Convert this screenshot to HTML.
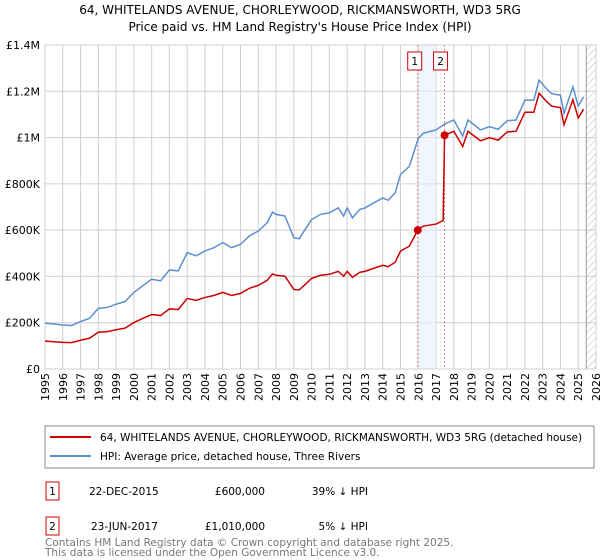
<!DOCTYPE html>
<html><head><meta charset="utf-8"><style>
body{margin:0;background:#fff;font-family:"Liberation Sans","DejaVu Sans",sans-serif;}
#wrap{position:relative;width:600px;height:560px;overflow:hidden}
</style></head><body>
<div id="wrap">
<svg id="svg" width="600" height="560" xmlns="http://www.w3.org/2000/svg" font-family="DejaVu Sans, Liberation Sans, sans-serif">
<defs><pattern id="hatch" width="5" height="5" patternUnits="userSpaceOnUse" patternTransform="rotate(45)"><line x1="0" y1="0" x2="0" y2="5" stroke="#bbb" stroke-width="1"/></pattern></defs>
<text x="300" y="14" text-anchor="middle" font-size="12" fill="#000">64, WHITELANDS AVENUE, CHORLEYWOOD, RICKMANSWORTH, WD3 5RG</text>
<text x="300" y="31" text-anchor="middle" font-size="12" fill="#000">Price paid vs. HM Land Registry's House Price Index (HPI)</text>
<g id="grid"></g><g id="marks"></g><g id="axes"></g>
<rect x="45" y="426" width="549" height="42" fill="#fff" stroke="#888"/>
<line x1="50" y1="437" x2="91" y2="437" stroke="#cc0000" stroke-width="2"/>
<text x="100" y="441" font-size="10.5">64, WHITELANDS AVENUE, CHORLEYWOOD, RICKMANSWORTH, WD3 5RG (detached house)</text>
<line x1="50" y1="456" x2="91" y2="456" stroke="#5b8fd0" stroke-width="2"/>
<text x="100" y="460" font-size="10.5">HPI: Average price, detached house, Three Rivers</text>
<g font-size="10.5">
<rect x="46" y="482" width="13" height="18" fill="#fff" stroke="#cc0000"/>
<text x="52.5" y="495" text-anchor="middle">1</text>
<text x="89" y="495">22-DEC-2015</text>
<text x="265" y="495" text-anchor="end">£600,000</text>
<text x="368" y="495" text-anchor="end">39% ↓ HPI</text>
<rect x="46" y="517" width="13" height="18" fill="#fff" stroke="#cc0000"/>
<text x="52.5" y="530" text-anchor="middle">2</text>
<text x="91" y="530">23-JUN-2017</text>
<text x="265" y="530" text-anchor="end">£1,010,000</text>
<text x="368" y="530" text-anchor="end">5% ↓ HPI</text>
</g>
<text x="45" y="546" font-size="10.5" fill="#777">Contains HM Land Registry data © Crown copyright and database right 2025.</text>
<text x="45" y="556" font-size="10.5" fill="#777">This data is licensed under the Open Government Licence v3.0.</text>
</svg>
</div>
<script>
const hpiYears=[1995,1996,1996.5,1997,1997.5,1998,1998.5,1999,1999.5,2000,2000.5,2001,2001.5,2002,2002.5,2003,2003.5,2004,2004.5,2005,2005.5,2006,2006.5,2007,2007.5,2007.8,2008,2008.5,2009,2009.3,2009.7,2010,2010.5,2011,2011.5,2011.8,2012,2012.3,2012.7,2013,2013.5,2014,2014.3,2014.7,2015,2015.5,2016,2016.3,2017,2017.5,2018,2018.5,2018.8,2019.5,2020,2020.5,2021,2021.5,2022,2022.5,2022.8,2023.2,2023.5,2024,2024.2,2024.7,2025,2025.3];
const hpiValues=[199,190,188,205,219,262,266,280,291,331,360,388,381,428,424,503,489,510,524,546,524,539,575,596,632,678,668,661,567,563,610,646,668,675,696,661,696,653,689,696,718,739,729,761,840,876,997,1019,1033,1059,1076,1007,1076,1033,1047,1036,1073,1076,1162,1162,1248,1212,1190,1183,1105,1219,1136,1176];
const saleYears=[2015.97,2017.48];
const salePrices=[600,1010];
const yTicks=[0,200,400,600,800,1000,1200,1400];
const yTickLabels=["£0","£200K","£400K","£600K","£800K","£1M","£1.2M","£1.4M"];
const xTicks=[1995,1996,1997,1998,1999,2000,2001,2002,2003,2004,2005,2006,2007,2008,2009,2010,2011,2012,2013,2014,2015,2016,2017,2018,2019,2020,2021,2022,2023,2024,2025,2026];
const NS="http://www.w3.org/2000/svg";
const X0=45,X1=596,Y0=369,Y1=45;
const xs=y=>X0+(y-1995)/(2026-1995)*(X1-X0);
const ys=v=>Y0-v/1400*(Y0-Y1);
function mk(tag,attrs,parent){const e=document.createElementNS(NS,tag);for(const k in attrs)e.setAttribute(k,attrs[k]);document.getElementById(parent).appendChild(e);return e;}
xTicks.forEach(t=>{const l=mk('line',{x1:xs(t),x2:xs(t),y1:Y1,y2:Y0,stroke:'#d0d0d0'},'grid');


const tx=mk('text',{transform:`translate(${xs(t)+4},${Y0+4}) rotate(-90)`,'text-anchor':'end','font-size':'11'},'axes');tx.textContent=t;

});
yTicks.forEach((t,i)=>{const l=mk('line',{x1:X0,x2:X1,y1:ys(t),y2:ys(t),stroke:'#d0d0d0'},'grid');


const tx=mk('text',{x:40,y:ys(t)+4,'text-anchor':'end','font-size':'11'},'axes');tx.textContent=yTickLabels[i];

});
const band=mk('rect',{x:xs(2016),y:Y1,width:xs(2017)-xs(2016),height:Y0-Y1,fill:'#e8effb',opacity:0.6},'grid');


const hat=mk('rect',{x:xs(2025.45),y:Y1,width:X1-xs(2025.45),height:Y0-Y1,fill:'url(#hatch)'},'grid');


const hl=mk('line',{x1:xs(2025.45),x2:xs(2025.45),y1:Y1,y2:Y0,stroke:'#999'},'grid');


function hpiAt(y){for(let i=0;i<hpiYears.length-1;i++){if(y<=hpiYears[i+1])return hpiValues[i]+(hpiValues[i+1]-hpiValues[i])*(y-hpiYears[i])/(hpiYears[i+1]-hpiYears[i]);}return hpiValues[hpiValues.length-1];}
const f1=salePrices[0]/hpiAt(saleYears[0]),f2=salePrices[1]/hpiAt(saleYears[1]);
let redPts=[];
hpiYears.forEach((y,i)=>{if(y<saleYears[0])redPts.push([y,hpiValues[i]*f1]);});
redPts.push([saleYears[0],salePrices[0]]);
hpiYears.forEach((y,i)=>{if(y>saleYears[0]&&y<saleYears[1])redPts.push([y,hpiValues[i]*f1]);});
redPts.push([saleYears[1]-0.08,hpiAt(saleYears[1])*f1]);
redPts.push([saleYears[1],salePrices[1]]);
hpiYears.forEach((y,i)=>{if(y>saleYears[1])redPts.push([y,hpiValues[i]*f2]);});
const hp=mk('polyline',{points:hpiYears.map((y,i)=>xs(y)+','+ys(hpiValues[i])).join(' '),fill:'none',stroke:'#5b8fd0','stroke-width':1.5},'marks');


const rp=mk('polyline',{points:redPts.map(p=>xs(p[0])+','+ys(p[1])).join(' '),fill:'none',stroke:'#cc0000','stroke-width':1.5},'marks');


saleYears.forEach((y,i)=>{
const d=mk('line',{x1:xs(y),x2:xs(y),y1:Y1,y2:Y0,stroke:'#e06060','stroke-dasharray':'2,2','stroke-width':0.8},'grid');


const c=mk('circle',{cx:xs(y),cy:ys(salePrices[i]),r:4,fill:'#cc0000'},'marks');


const b=mk('rect',{x:(i===0?xs(y)-10:xs(y)-11),y:52,width:14,height:18,fill:'#fff',stroke:'#cc0000'},'marks');


const t=mk('text',{x:(i===0?xs(y)-3:xs(y)-4),y:65,'text-anchor':'middle','font-size':'10.5'},'marks');t.textContent=i+1;


});
const ax=mk('rect',{x:X0,y:Y1,width:X1-X0,height:Y0-Y1,fill:'none',stroke:'#d0d0d0'},'grid');


</script>
</body></html>
